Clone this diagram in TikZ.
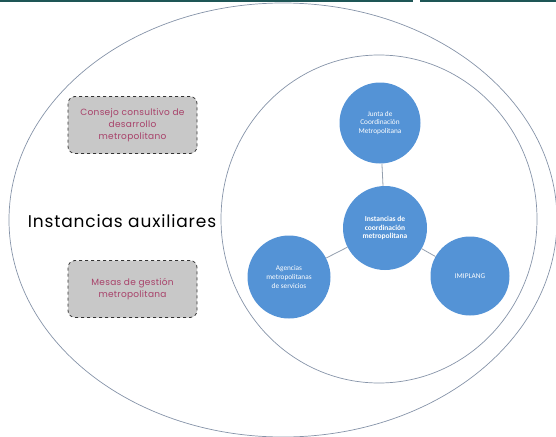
\documentclass[tikz,border=0pt]{standalone}
\usepackage{fontspec}
\setmainfont{Poppins}
\newfontfamily\circfont{Carlito}
\definecolor{ringcol}{HTML}{8593A8}
\definecolor{circfill}{HTML}{5493D6}
\definecolor{linkcol}{HTML}{949FAE}
\definecolor{boxfill}{HTML}{C8C8C8}
\definecolor{boxtext}{HTML}{A8426A}
\definecolor{barcol}{HTML}{1E5656}
\tikzset{
  ring/.style={draw=ringcol, line width=0.7pt},
  bubble/.style={circle, fill=circfill, draw=none, minimum size=81pt, inner sep=0pt, align=center, text=white, font=\circfont\fontsize{7.3}{8.6}\selectfont},
  auxbox/.style={draw=black!80, dashed, line width=0.8pt, fill=boxfill, rounded corners=7pt, minimum width=129pt, minimum height=57pt, align=center, text=boxtext, font=\addfontfeature{LetterSpace=3}\fontsize{9}{12}\selectfont},
  link/.style={draw=linkcol, line width=0.8pt}
}
\begin{document}
\begin{tikzpicture}[x=1pt,y=-1pt]
\useasboundingbox (0,0) rectangle (556,436);
\fill[barcol] (0,0) rectangle (413,2.5);
\fill[barcol] (420,0) rectangle (556,2.5);
\begin{scope}
\clip (0,3) rectangle (556,436);
\draw[ring] (283,220) ellipse [x radius=274, y radius=217];
\end{scope}
\draw[ring] (379,219) ellipse [x radius=158, y radius=164];
\node[auxbox] (consejo) at (132.5,125) {Consejo consultivo de\\desarrollo\\metropolitano};
\node[auxbox] (mesas) at (132.5,289) {Mesas de gestión\\metropolitana};
\node[font=\addfontfeature{LetterSpace=5}\fontsize{17}{20}\selectfont] (aux) at (122,221) {Instancias auxiliares};
\node[bubble] (junta) at (380,123) {Junta de\\Coordinación\\Metropolitana};
\node[bubble, minimum size=84pt, font=\circfont\bfseries\fontsize{7.5}{8.8}\selectfont] (centro) at (385,228) {Instancias de\\coordinación\\metropolitana};
\node[bubble, minimum size=83pt] (agencias) at (289,277) {Agencias\\metropolitanas\\de servicios};
\node[bubble, minimum size=79pt] (imip) at (470,276) {IMIPLANG};
\draw[link] (junta) -- (centro);
\draw[link] (centro) -- (agencias);
\draw[link] (centro) -- (imip);
\end{tikzpicture}
\end{document}
